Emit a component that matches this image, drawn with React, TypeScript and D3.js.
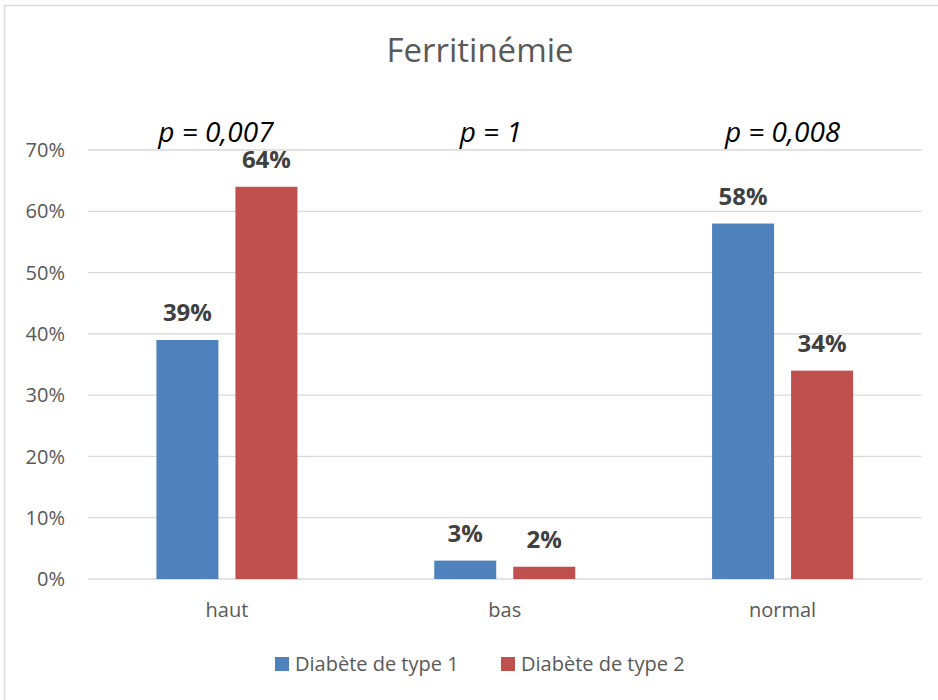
import React from "react";
import * as d3 from "d3";

const categories = ["haut", "bas", "normal"];
const seriesNames = ["Diabète de type 1", "Diabète de type 2"];
const type1Values = [39, 3, 58];
const type2Values = [64, 2, 34];
const pLabels = ["p = 0,007", "p = 1", "p = 0,008"];
const pOffsets = [-11, -14, 0];
const yTicks = [0, 10, 20, 30, 40, 50, 60, 70];
const colors = ["#4F81BD", "#C0504D"];

const W = 938;
const H = 700;
const FONT = "'Open Sans', sans-serif";

export default function App() {
  const plotLeft = 88;
  const plotRight = 921.5;
  const y = d3.scaleLinear().domain([0, 70]).range([579, 150]);
  const x0 = d3.scaleBand<string>().domain(categories).range([plotLeft, plotRight]).padding(0);
  const bw = x0.bandwidth();
  const x1 = d3
    .scaleBand<string>()
    .domain(seriesNames)
    .range([bw / 2 - 70.5, bw / 2 + 70.5])
    .paddingInner(17 / 79)
    .paddingOuter(0);
  const seriesValues = [type1Values, type2Values];

  return (
    <svg width={W} height={H} style={{ position: "absolute", left: 0, top: 0, background: "#fff" }} fontFamily={FONT}>
      <rect x={4.5} y={5.5} width={1000} height={1000} fill="#fff" stroke="#d9d9d9" strokeWidth={1.5} />
      <text x={480} y={62} textAnchor="middle" fontSize={33} fill="#595959">
        Ferritinémie
      </text>
      {yTicks.map((t) => (
        <g key={t}>
          <line x1={plotLeft} x2={plotRight} y1={y(t)} y2={y(t)} stroke="#d9d9d9" strokeWidth={1.3} />
          <text x={65} y={y(t)} dy="0.36em" textAnchor="end" fontSize={20} fill="#595959">
            {t}%
          </text>
        </g>
      ))}
      {categories.map((c, i) => (
        <g key={c} transform={`translate(${x0(c)},0)`}>
          {seriesNames.map((s, j) => {
            const v = seriesValues[j][i];
            const bx = x1(s)!;
            return (
              <g key={s}>
                <rect x={bx} y={y(v)} width={x1.bandwidth()} height={y(0) - y(v)} fill={colors[j]} />
                <text
                  x={bx + x1.bandwidth() / 2}
                  y={y(v) - 19}
                  textAnchor="middle"
                  fontSize={24}
                  fontWeight="bold"
                  fill="#404040"
                >
                  {v}%
                </text>
              </g>
            );
          })}
          <text x={bw / 2} y={617} textAnchor="middle" fontSize={20} fill="#595959">
            {c}
          </text>
          <text
            x={bw / 2 + pOffsets[i]}
            y={142}
            textAnchor="middle"
            fontSize={28}
            fontStyle="italic"
            fill="#000"
          >
            {pLabels[i]}
          </text>
        </g>
      ))}
      {seriesNames.map((s, j) => {
        const lx = [275, 501][j];
        return (
          <g key={s}>
            <rect x={lx} y={657} width={14} height={14} fill={colors[j]} />
            <text x={lx + 20} y={671} fontSize={20} fill="#595959">
              {s}
            </text>
          </g>
        );
      })}
    </svg>
  );
}
